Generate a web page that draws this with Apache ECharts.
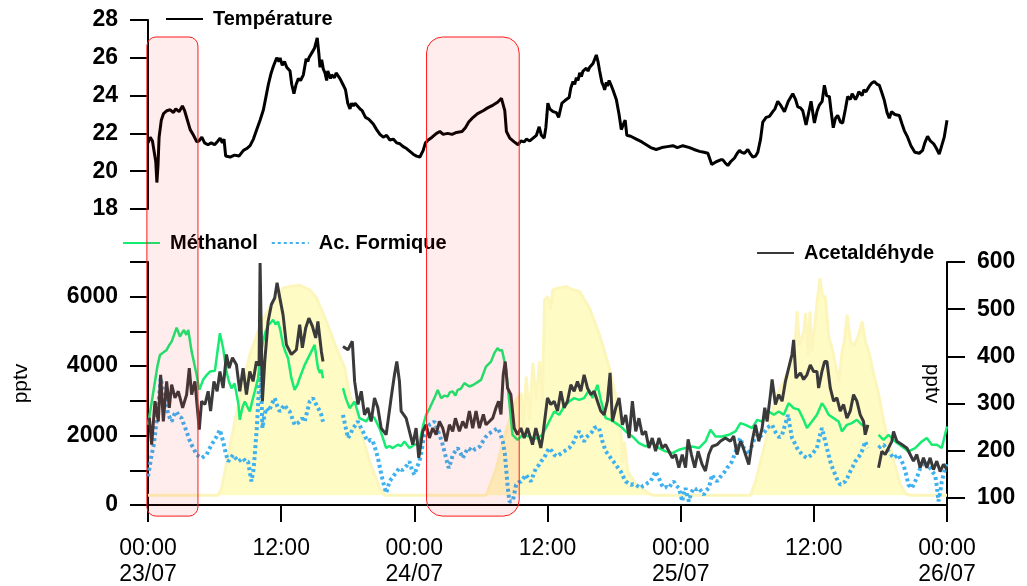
<!DOCTYPE html>
<html>
<head>
<meta charset="utf-8">
<script src="https://cdn.jsdelivr.net/npm/echarts@6/dist/echarts.min.js"></script>
<style>
html,body{margin:0;padding:0;background:#fff;}
#chart{width:1027px;height:586px;}
</style>
</head>
<body>
<div id="chart"></div>
<script>
// ---- DATA (hours since 23/07 00:00) ----
const dayLabels = ['23/07', '24/07', '25/07', '26/07'];
const highlightPeriods = [[-0.1, 4.5], [25.1, 33.45]];

const temperature = [[0,21.5],[0.2,21.8],[0.4,21.6],[0.55,21.7],[0.7,20.5],[0.8,19.4],[0.9,20.3],[1.0,21.8],[1.2,22.7],[1.4,23.05],[1.7,23.2],[2.0,23.25],[2.3,23.1],[2.5,23.3],[2.8,23.15],[3.1,23.45],[3.3,23.2],[3.5,22.8],[3.8,22.2],[4.1,21.9],[4.4,21.55],[4.6,21.6],[4.85,21.8],[5.1,21.5],[5.4,21.4],[5.7,21.5],[6.0,21.4],[6.3,21.6],[6.5,21.75],[6.7,21.5],[6.85,21.7],[7.0,20.8],[7.4,20.75],[7.8,20.85],[8.2,20.8],[8.6,21.1],[8.9,21.2],[9.2,21.35],[9.5,21.7],[9.8,22.2],[10.1,22.7],[10.4,23.25],[10.65,24.0],[10.85,24.6],[11.1,25.2],[11.3,25.55],[11.6,26.0],[11.8,25.8],[11.9,26.0],[12.0,25.9],[12.1,25.6],[12.2,25.5],[12.3,25.8],[12.4,25.9],[12.5,25.5],[12.6,25.6],[12.8,25.3],[12.95,24.6],[13.15,24.1],[13.35,24.6],[13.55,24.9],[13.75,24.8],[14.0,25.1],[14.25,25.95],[14.4,25.8],[14.5,26.0],[14.65,25.9],[14.8,26.3],[15.0,26.5],[15.25,27.05],[15.4,26.2],[15.5,25.5],[15.65,25.9],[15.8,25.4],[15.95,25.2],[16.1,24.8],[16.2,25.3],[16.3,25.2],[16.45,24.9],[16.55,25.1],[16.7,25.2],[16.8,24.95],[16.95,25.2],[17.1,25.15],[17.3,24.9],[17.6,24.55],[17.8,24.3],[18.0,23.6],[18.2,23.3],[18.35,23.6],[18.5,23.45],[18.65,23.6],[18.8,23.5],[19.1,23.3],[19.3,23.2],[19.6,22.85],[19.9,22.75],[20.3,22.5],[20.6,22.2],[20.9,21.95],[21.2,21.8],[21.5,21.9],[21.8,21.65],[22.1,21.7],[22.4,21.5],[22.7,21.45],[23.0,21.3],[23.3,21.2],[23.6,21.05],[23.9,20.9],[24.2,20.8],[24.5,20.75],[24.8,21.1],[25.0,21.5],[25.25,21.65],[25.6,21.8],[26.0,22.0],[26.3,22.1],[26.6,21.95],[27.0,22.0],[27.4,21.95],[27.8,22.05],[28.3,22.1],[28.6,22.3],[28.9,22.6],[29.3,22.85],[29.7,23.05],[30.2,23.2],[30.6,23.35],[31.1,23.5],[31.5,23.65],[31.85,23.85],[32.0,23.8],[32.15,23.2],[32.3,22.1],[32.6,21.75],[33.0,21.55],[33.35,21.4],[33.6,21.6],[33.9,21.55],[34.1,21.7],[34.4,21.6],[34.7,21.75],[35.0,21.9],[35.25,22.35],[35.45,21.9],[35.7,21.75],[35.85,22.3],[35.95,23.0],[36.03,23.6],[36.2,23.3],[36.5,23.15],[36.8,23.1],[37.0,22.85],[37.1,23.1],[37.3,23.6],[37.6,23.75],[37.95,23.9],[38.1,24.4],[38.3,24.75],[38.45,24.6],[38.6,24.95],[38.75,24.8],[38.9,25.2],[39.05,25.0],[39.2,25.3],[39.35,25.2],[39.5,25.45],[39.65,25.3],[39.8,25.5],[39.95,25.4],[40.1,25.7],[40.25,25.6],[40.4,26.15],[40.55,25.8],[40.7,25.3],[40.9,24.7],[41.05,24.5],[41.15,24.3],[41.3,24.7],[41.4,24.5],[41.55,24.8],[41.7,24.6],[41.9,24.3],[42.2,23.8],[42.45,23.0],[42.65,22.2],[42.85,22.5],[43.0,22.7],[43.15,21.9],[43.5,21.85],[44.0,21.7],[44.5,21.55],[44.9,21.4],[45.3,21.25],[45.8,21.15],[46.3,21.25],[46.8,21.3],[47.3,21.35],[47.7,21.25],[48.2,21.35],[48.8,21.25],[49.2,21.15],[49.7,21.05],[50.1,21.0],[50.45,20.95],[50.8,20.35],[51.2,20.5],[51.6,20.6],[51.8,20.6],[52.0,20.45],[52.25,20.3],[52.5,20.5],[52.85,20.7],[53.1,20.95],[53.3,21.1],[53.5,21.0],[53.75,20.95],[54.05,21.15],[54.3,20.9],[54.5,20.75],[54.75,20.8],[54.95,21.0],[55.2,21.7],[55.4,22.6],[55.7,22.85],[56.0,22.9],[56.3,23.15],[56.5,23.3],[56.75,23.7],[57.0,23.5],[57.35,23.15],[57.7,23.7],[58.1,24.1],[58.35,23.8],[58.55,23.4],[58.8,23.35],[59.0,23.2],[59.3,22.45],[59.5,23.0],[59.75,23.7],[60.05,22.55],[60.3,23.2],[60.5,23.5],[60.75,23.7],[60.95,24.55],[61.15,24.0],[61.4,23.95],[61.55,23.2],[61.75,22.3],[61.95,22.8],[62.15,22.95],[62.4,22.6],[62.6,22.55],[62.85,23.3],[63.05,23.95],[63.3,23.8],[63.45,24.1],[63.6,24.05],[63.75,23.8],[63.9,23.95],[64.05,24.2],[64.2,24.2],[64.35,24.0],[64.5,24.3],[64.7,24.2],[65.0,24.5],[65.2,24.65],[65.45,24.75],[65.7,24.6],[65.9,24.55],[66.1,24.2],[66.35,23.75],[66.6,23.1],[66.8,22.8],[67.0,23.15],[67.3,23.0],[67.7,22.95],[67.95,22.5],[68.15,22.15],[68.45,21.8],[68.75,21.35],[69.1,21.0],[69.5,20.95],[69.8,21.1],[70.0,21.5],[70.25,21.85],[70.5,21.6],[70.8,21.45],[71.05,21.2],[71.3,20.9],[71.5,21.3],[71.75,21.8],[72.0,22.7]];

const methanol = [[0,2310],[0.3,2900],[0.63,3556],[0.85,4000],[1.08,4324],[1.4,4400],[1.68,4468],[1.9,4600],[2.13,4707],[2.35,4900],[2.58,5110],[2.88,4851],[3.05,4950],[3.24,5043],[3.45,4900],[3.63,5043],[3.93,4419],[4.15,4100],[4.38,3749],[4.62,3317],[4.97,3605],[5.3,3750],[5.58,3844],[6.03,3864],[6.25,4400],[6.48,4948],[6.77,4517],[7.07,3844],[7.3,3550],[7.52,3365],[7.8,3500],[7.97,3461],[8.15,2900],[8.27,2454],[8.5,2800],[8.72,2981],[9.17,2693],[9.4,3000],[9.62,3268],[9.92,3653],[10.15,4300],[10.37,4707],[10.6,5000],[10.82,5187],[11.05,5250],[11.27,5331],[11.5,5200],[11.72,5283],[11.95,5000],[12.17,4612],[12.4,4400],[12.62,4229],[12.92,3653],[13.21,3317],[13.45,3450],[13.66,3653],[14.12,4036],[14.57,4324],[15.02,4612],[15.2,4200],[15.32,3941],[15.5,3800],[15.62,3900],[15.77,3653],[16.5,null],[17.57,3365],[17.85,3050],[18.17,2790],[18.62,2981],[19.06,2503],[19.66,2406],[20.05,2600],[20.41,2503],[20.86,2215],[21.2,1900],[21.46,1640],[21.75,1700],[22.06,1640],[22.51,1735],[22.8,1700],[23.11,1830],[23.56,1640],[24.01,1735],[24.46,1784],[24.8,2300],[25.06,2598],[25.4,2800],[25.66,2981],[25.9,3150],[26.11,3317],[26.41,3078],[26.7,3150],[27.01,3125],[27.2,3250],[27.46,3268],[27.7,3150],[27.91,3317],[28.2,3350],[28.51,3510],[28.96,3413],[29.25,3450],[29.56,3510],[30.01,3605],[30.46,3988],[30.91,4131],[31.21,4373],[31.5,4517],[31.7,4450],[31.9,4468],[32.26,3941],[32.55,2981],[32.85,2023],[33.3,1879],[33.75,2023],[34.35,1975],[34.8,1900],[35.2,1950],[35.55,2023],[36.15,2406],[36.6,2693],[37.05,2598],[37.5,2837],[37.95,2981],[38.4,3078],[38.85,3030],[39.3,3078],[39.75,3317],[40.05,3078],[40.5,3461],[40.8,3030],[41.25,2503],[41.7,2454],[42.15,2359],[42.6,2262],[43.05,2118],[43.65,1974],[44.24,1784],[44.84,1686],[45.44,1784],[46.04,1640],[46.64,1544],[47.24,1496],[47.84,1590],[48.44,1640],[49.04,1686],[49.64,1640],[50.24,1830],[50.69,2166],[51.14,1975],[51.74,1975],[52.34,2023],[52.94,2118],[53.39,2359],[53.84,2310],[54.44,2215],[54.89,2454],[55.34,2406],[55.94,2693],[56.39,2598],[56.84,2693],[57.29,2598],[57.73,2934],[58.18,2790],[58.63,2750],[59.08,2454],[59.38,2215],[59.83,2406],[60.28,2598],[60.73,2934],[61.03,2790],[61.33,2598],[61.78,2503],[62.23,2406],[62.53,2118],[62.98,2310],[63.43,2359],[63.88,2454],[64.33,2310],[64.78,2262],[64.93,2250],[65.4,null],[65.83,2023],[66.28,1879],[66.73,2023],[67.33,1830],[67.93,1686],[68.53,1544],[69.13,1640],[69.73,1830],[70.18,1927],[70.63,1735],[71.08,1735],[71.53,1640],[72,2262]];

const formicAcid = [[0,820],[0.15,1100],[0.33,1447],[0.5,1700],[0.63,2023],[0.8,2500],[0.93,2886],[1.05,3300],[1.14,3653],[1.3,3400],[1.53,3174],[1.7,2800],[1.83,2598],[2.13,2406],[2.35,2600],[2.58,2693],[2.8,2550],[3.03,2503],[3.25,2300],[3.48,2118],[3.7,1900],[3.93,1735],[4.15,1600],[4.38,1447],[4.6,1400],[4.83,1352],[5.05,1400],[5.28,1447],[5.5,1600],[5.73,1735],[5.95,1850],[6.18,1974],[6.48,2166],[6.77,1830],[7.0,1500],[7.22,1254],[7.45,1350],[7.67,1447],[7.9,1350],[8.12,1254],[8.35,1300],[8.57,1350],[8.8,1250],[9.02,1254],[9.2,900],[9.32,679],[9.5,1000],[9.62,1447],[9.8,2200],[9.92,2886],[10.06,3800],[10.14,4995],[10.22,3200],[10.31,2215],[10.5,2600],[10.67,2790],[10.9,2700],[11.12,2886],[11.42,3078],[11.65,2850],[11.87,2693],[12.1,2800],[12.32,2886],[12.55,2750],[12.77,2693],[13.0,2500],[13.21,2310],[13.45,2350],[13.66,2406],[13.9,2500],[14.12,2406],[14.35,2700],[14.57,2981],[14.87,3078],[15.17,2886],[15.4,2750],[15.62,2598],[15.77,2400],[16.5,null],[17.57,2598],[17.8,2250],[18.02,1927],[18.25,2050],[18.47,2215],[18.7,2300],[18.92,2406],[19.15,2250],[19.37,2118],[19.6,1950],[19.82,1830],[20.05,1880],[20.27,1830],[20.5,1600],[20.72,1352],[20.95,1000],[21.17,679],[21.46,345],[21.76,679],[22.0,780],[22.21,872],[22.45,980],[22.66,1064],[22.9,1000],[23.11,1064],[23.35,1150],[23.56,1254],[23.8,1000],[24.01,872],[24.25,1100],[24.46,1254],[24.7,1650],[24.91,2023],[25.15,2200],[25.36,2310],[25.6,2350],[25.81,2406],[26.05,2200],[26.26,2023],[26.5,1800],[26.71,1544],[26.9,1300],[27.1,1064],[27.3,1250],[27.46,1447],[27.7,1550],[27.91,1640],[28.15,1500],[28.36,1352],[28.6,1500],[28.81,1640],[29.05,1600],[29.26,1544],[29.5,1620],[29.72,1640],[29.95,1700],[30.17,1830],[30.4,1950],[30.62,2023],[30.85,2080],[31.07,2118],[31.3,2170],[31.52,2215],[31.75,2050],[31.97,1830],[32.15,1500],[32.27,1064],[32.42,500],[32.57,104],[32.87,110],[33.17,584],[33.4,650],[33.62,679],[33.85,780],[34.07,872],[34.3,750],[34.52,679],[34.75,900],[34.97,1064],[35.25,1160],[35.42,1254],[35.7,1352],[35.9,1500],[36.15,1640],[36.4,1550],[36.6,1447],[36.85,1400],[37.05,1447],[37.3,1500],[37.5,1544],[37.75,1600],[37.95,1640],[38.2,1750],[38.4,1830],[38.6,2000],[38.85,2118],[39.1,1950],[39.3,1830],[39.5,1950],[39.75,2023],[40.0,2100],[40.2,2215],[40.45,2250],[40.65,2215],[40.95,1830],[41.25,1544],[41.5,1450],[41.7,1352],[41.95,1250],[42.15,1160],[42.4,1050],[42.6,967],[42.85,800],[43.05,679],[43.3,620],[43.5,584],[43.75,600],[43.95,584],[44.2,530],[44.4,489],[44.6,550],[44.84,584],[45.05,640],[45.29,679],[45.5,820],[45.74,967],[46.04,780],[46.25,600],[46.49,489],[46.7,520],[46.94,489],[47.15,600],[47.39,679],[47.6,560],[47.84,489],[48.0,300],[48.14,104],[48.3,350],[48.44,489],[48.6,250],[48.74,104],[48.95,350],[49.19,488],[49.4,450],[49.64,489],[49.85,400],[50.09,296],[50.3,420],[50.54,489],[50.7,700],[50.83,872],[51.05,750],[51.28,679],[51.5,780],[51.73,872],[51.95,950],[52.18,1064],[52.4,1150],[52.63,1254],[52.85,1450],[53.08,1640],[53.24,1830],[53.38,1927],[53.69,1640],[53.9,1550],[54.14,1447],[54.44,1735],[54.65,1900],[54.89,2023],[55.1,1950],[55.34,2023],[55.55,2100],[55.79,2215],[56.0,2270],[56.24,2310],[56.45,2150],[56.69,2023],[56.9,1950],[57.14,2023],[57.4,2300],[57.68,2598],[57.85,2250],[58.04,1927],[58.25,1800],[58.49,1640],[58.7,1550],[58.94,1447],[59.15,1400],[59.39,1352],[59.6,1400],[59.83,1447],[60.05,1550],[60.28,1640],[60.5,1950],[60.73,2215],[60.9,2000],[61.03,1830],[61.25,1550],[61.48,1254],[61.7,1050],[61.93,872],[62.15,700],[62.38,584],[62.6,630],[62.83,679],[63.05,800],[63.28,967],[63.5,1100],[63.73,1254],[63.95,1350],[64.18,1447],[64.4,1600],[64.63,1830],[64.87,1640],[65.4,null],[65.83,1640],[66.05,1700],[66.28,1735],[66.5,1650],[66.73,1544],[66.95,1450],[67.18,1352],[67.4,1400],[67.63,1447],[67.85,1300],[68.08,1160],[68.3,900],[68.53,584],[68.83,488],[69.13,679],[69.35,850],[69.58,1064],[69.8,1150],[70.03,1254],[70.25,1160],[70.48,1064],[70.7,950],[70.93,872],[71.1,500],[71.23,104],[71.4,400],[71.53,679],[71.75,950],[72,1254]];

const acetaldehyde = [[0.12,270],[0.33,213],[0.63,305],[0.93,262],[1.14,361],[1.38,262],[1.68,347],[1.92,291],[2.13,340],[2.43,312],[2.73,326],[3.12,291],[3.48,319],[3.72,375],[3.93,319],[4.23,347],[4.62,245],[4.83,305],[5.13,298],[5.42,326],[5.64,284],[5.94,347],[6.23,326],[6.48,368],[6.77,333],[7.07,404],[7.31,375],[7.61,397],[7.97,382],[8.27,326],[8.57,375],[8.87,319],[9.17,368],[9.47,347],[9.77,389],[10.01,380],[10.1,598],[10.22,598],[10.31,305],[10.52,389],[10.82,474],[11.12,510],[11.42,524],[11.63,556],[11.87,525],[12.17,488],[12.47,425],[12.92,404],[13.37,414],[13.67,467],[13.91,418],[14.21,460],[14.5,481],[14.81,464],[15.11,439],[15.31,474],[15.62,411],[15.77,389],[16.5,null],[17.57,421],[18.02,414],[18.41,432],[18.62,347],[18.92,298],[19.22,326],[19.51,276],[19.81,291],[20.11,262],[20.41,312],[20.71,291],[21.01,248],[21.46,234],[21.91,312],[22.21,361],[22.42,389],[22.66,347],[22.81,284],[23.26,269],[23.56,241],[23.86,213],[24.16,248],[24.4,185],[24.76,241],[25.06,255],[25.36,227],[25.66,248],[25.96,234],[26.26,262],[26.56,248],[26.86,220],[27.16,255],[27.46,241],[27.7,269],[28.06,241],[28.36,262],[28.66,248],[28.96,284],[29.26,248],[29.56,284],[29.86,248],[30.22,277],[30.46,255],[30.76,262],[31.06,269],[31.36,291],[31.59,305],[31.81,277],[32.01,361],[32.19,389],[32.4,333],[32.7,319],[33.0,248],[33.3,234],[33.6,248],[33.9,227],[34.2,248],[34.65,213],[34.95,248],[35.4,206],[35.55,227],[36.0,312],[36.3,298],[36.6,305],[36.9,284],[37.2,326],[37.5,291],[37.8,305],[38.1,340],[38.4,326],[38.7,347],[39.0,326],[39.3,361],[39.6,333],[39.9,319],[40.2,326],[40.5,305],[40.8,284],[41.1,276],[41.4,305],[41.64,365],[41.85,262],[42.15,291],[42.45,312],[42.75,255],[43.05,276],[43.35,227],[43.65,305],[43.95,241],[44.24,269],[44.54,234],[44.84,241],[45.14,206],[45.44,227],[45.74,199],[46.04,227],[46.34,206],[46.64,213],[46.94,199],[47.24,185],[47.54,192],[47.84,164],[48.14,192],[48.44,164],[48.67,224],[48.97,192],[49.27,164],[49.57,199],[49.93,171],[50.23,157],[50.53,192],[50.83,209],[51.28,213],[51.58,220],[52.03,227],[52.48,220],[52.78,231],[53.08,192],[53.38,220],[53.54,213],[53.84,192],[54.14,171],[54.44,220],[54.74,255],[55.04,220],[55.34,248],[55.58,291],[55.79,262],[56.09,319],[56.24,351],[56.54,298],[56.84,319],[57.14,305],[57.44,347],[57.73,375],[58.03,404],[58.18,435],[58.39,354],[58.79,365],[59.08,351],[59.38,361],[59.68,382],[59.98,368],[60.28,368],[60.43,333],[60.73,368],[60.97,389],[61.18,389],[61.48,333],[61.78,305],[62.08,312],[62.38,284],[62.68,298],[62.98,269],[63.28,284],[63.58,319],[63.88,305],[64.18,276],[64.48,262],[64.63,234],[64.87,255],[65.4,null],[65.83,164],[66.13,199],[66.43,192],[66.73,206],[67.03,220],[67.18,241],[67.48,220],[67.93,213],[68.38,206],[68.68,192],[68.98,178],[69.28,192],[69.58,164],[69.88,185],[70.18,164],[70.48,185],[70.78,160],[71.08,178],[71.38,156],[71.68,171],[72,160]];

const radiation = [[0,0],[6.33,0],[6.63,30],[7.23,173],[7.83,316],[8.43,459],[9.18,602],[10.23,745],[11.13,817],[12.18,888],[12.78,895],[13.68,900],[14.58,881],[15.18,846],[16.08,745],[16.98,631],[17.73,545],[18.18,431],[19.08,288],[19.98,145],[20.88,30],[21.33,0],[30.49,0],[31.39,116],[31.98,230],[32.58,323],[33.18,409],[33.63,438],[33.84,281],[34.08,509],[34.38,323],[34.68,567],[34.99,409],[35.28,574],[35.55,409],[35.73,838],[36.03,852],[36.27,795],[36.48,881],[36.93,888],[37.69,895],[38.29,881],[38.88,874],[39.78,803],[40.68,688],[41.58,545],[42.19,417],[42.63,259],[42.78,139],[42.93,230],[43.23,102],[43.99,45],[44.89,16],[45.48,0],[54.3,0],[54.75,59],[55.2,145],[55.65,230],[56.1,331],[56.7,431],[57.3,488],[57.9,559],[58.35,674],[58.5,788],[58.7,640],[59.1,702],[59.25,781],[59.5,600],[59.65,788],[59.85,616],[60.3,831],[60.55,931],[60.75,860],[61.05,846],[61.35,674],[61.6,640],[61.95,559],[62.25,488],[62.55,616],[62.75,659],[63.0,774],[63.3,659],[63.6,640],[64.05,688],[64.35,745],[64.65,659],[64.95,616],[65.4,517],[65.85,431],[66.3,316],[66.75,230],[67.2,145],[67.8,45],[68.25,9],[68.6,0],[72,0]];

// ---- CHART ----
const FONT = '"Liberation Sans", Arial, sans-serif';
const chart = echarts.init(document.getElementById('chart'), null, {renderer: 'canvas'});
const axisBlack = {lineStyle: {color: '#000', width: 2}};
const tickStyle = {show: true, length: 18, lineStyle: {color: '#000', width: 2}};
const yLabel = {color: '#000', fontSize: 23, fontWeight: 'bold', fontFamily: FONT, margin: 30};
const legendText = {fontSize: 20, fontWeight: 'bold', color: '#000', fontFamily: FONT, padding: [0, 0, 0, 5]};

const option = {
  animation: false,
  backgroundColor: '#fff',
  grid: [
    {left: 148, top: 20, width: 799, height: 189, containLabel: false, outerBoundsMode: 'none'},
    {left: 148, top: 262, width: 799, height: 243, containLabel: false, outerBoundsMode: 'none'}
  ],
  legend: [
    {data: ['Température'], left: 165, top: 9, padding: 0, itemWidth: 37, itemHeight: 14,
     itemStyle: {opacity: 0}, textStyle: legendText},
    {data: ['Méthanol', 'Ac. Formique'], left: 122, top: 233, padding: 0, itemWidth: 37, itemHeight: 14, itemGap: 13,
     itemStyle: {opacity: 0}, textStyle: legendText},
    {data: ['Acetaldéhyde'], left: 756, top: 243, padding: 0, itemWidth: 37, itemHeight: 14,
     itemStyle: {opacity: 0}, textStyle: legendText}
  ],
  xAxis: [
    {type: 'value', gridIndex: 0, min: 0, max: 72, interval: 12, show: false},
    {type: 'value', gridIndex: 1, min: 0, max: 72, interval: 12,
     axisLine: {show: true, onZero: false, lineStyle: {color: '#000', width: 2}},
     axisTick: {show: true, length: 17, lineStyle: {color: '#000', width: 2}},
     splitLine: {show: false},
     axisLabel: {color: '#000', fontSize: 23, fontFamily: FONT, lineHeight: 26, margin: 31, hideOverlap: false,
       formatter: v => (v % 24 === 0 ? '00:00\n' + dayLabels[v / 24] : '12:00')}}
  ],
  yAxis: [
    {type: 'value', gridIndex: 0, min: 18, max: 28, interval: 2,
     axisLine: {show: true, ...axisBlack}, axisTick: tickStyle,
     splitLine: {show: false}, axisLabel: yLabel},
    {type: 'value', gridIndex: 1, min: 0, max: 7000, interval: 1000, position: 'left',
     name: 'pptv', nameLocation: 'middle', nameGap: 116, nameRotate: 90, nameMoveOverlap: false,
     nameTextStyle: {color: '#000', fontSize: 21, fontFamily: FONT},
     axisLine: {show: true, onZero: false, ...axisBlack}, axisTick: tickStyle,
     splitLine: {show: false},
     axisLabel: {...yLabel, formatter: v => (v % 2000 === 0 && v < 7000 ? String(v) : '')}},
    {type: 'value', gridIndex: 1, min: 85, max: 600, position: 'right',
     name: 'pptv', nameLocation: 'middle', nameGap: -26, nameRotate: -90, nameMoveOverlap: false,
     nameTextStyle: {color: '#000', fontSize: 21, fontFamily: FONT},
     axisLine: {show: true, onZero: false, ...axisBlack},
     axisTick: {...tickStyle, customValues: [100, 200, 300, 400, 500, 600]},
     splitLine: {show: false},
     axisLabel: {...yLabel, customValues: [100, 200, 300, 400, 500, 600]}},
    {type: 'value', gridIndex: 1, min: -42, max: 1000, show: false}
  ],
  series: [
    {name: 'Température', type: 'line', xAxisIndex: 0, yAxisIndex: 0, data: temperature,
     symbol: 'none', color: '#000', lineStyle: {color: '#000', width: 3}},
    {name: 'Rayonnement', type: 'line', xAxisIndex: 1, yAxisIndex: 3, data: radiation, z: 1,
     symbol: 'none', color: '#fefbc4', lineStyle: {color: '#fdf6bc', width: 3},
     areaStyle: {color: '#fefbc4', opacity: 1}},
    {name: 'Ac. Formique', type: 'line', xAxisIndex: 1, yAxisIndex: 1, data: formicAcid, z: 3,
     symbol: 'none', color: '#3fb1ef', lineStyle: {color: '#3fb1ef', width: 4, type: [3, 3]}},
    {name: 'Méthanol', type: 'line', xAxisIndex: 1, yAxisIndex: 1, data: methanol, z: 4,
     symbol: 'none', color: '#17eb72', lineStyle: {color: '#17eb72', width: 2.5}},
    {name: 'Acetaldéhyde', type: 'line', xAxisIndex: 1, yAxisIndex: 2, data: acetaldehyde, z: 5,
     symbol: 'none', color: '#3a3a3a', lineStyle: {color: '#3a3a3a', width: 3}}
  ]
};
chart.setOption(option);

// Highlight periods (rounded boxes spanning both panels), positioned through the axes
const boxTopTemp = 27.1, boxBottomPptv = -320;
const radii = [9, 16];
const boxes = highlightPeriods.map((p, i) => {
  const tl = chart.convertToPixel({xAxisIndex: 0, yAxisIndex: 0}, [p[0], boxTopTemp]);
  const br = chart.convertToPixel({xAxisIndex: 1, yAxisIndex: 1}, [p[1], boxBottomPptv]);
  return {
    type: 'rect', z: 100, silent: true,
    shape: {x: tl[0], y: tl[1], width: br[0] - tl[0], height: br[1] - tl[1], r: radii[i]},
    style: {fill: 'rgba(255,0,0,0.07)', stroke: '#ff1a1a', lineWidth: 1}
  };
});
chart.setOption({graphic: boxes});
</script>
</body>
</html>
